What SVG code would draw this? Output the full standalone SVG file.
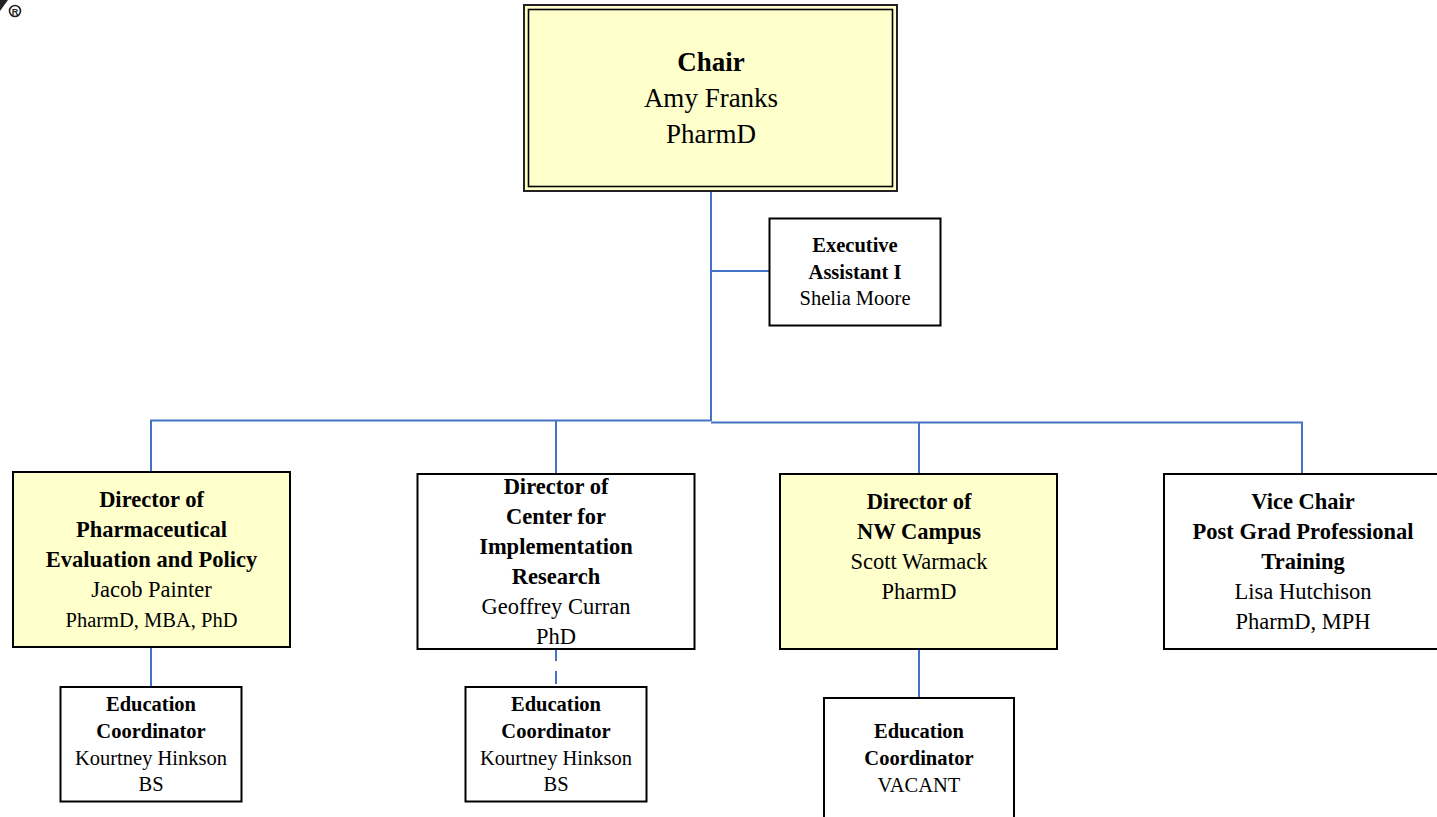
<svg xmlns="http://www.w3.org/2000/svg" width="1437" height="817" viewBox="0 0 1437 817">
<style>
text{font-family:"Liberation Serif","Times New Roman",serif;fill:#000;text-anchor:middle}
.b{font-weight:700}
.box{fill:#fff;stroke:#000;stroke-width:2}
.y{fill:#ffffcc}
.c{fill:none;stroke:#4472c4;stroke-width:2}
.s22{font-size:22.5px}
.s21{font-size:20.5px}
</style>
<rect width="1437" height="817" fill="#fff"/>
<g id="logo">
<path d="M0 0H8L0 11Z" fill="#222"/>
<circle cx="15" cy="11" r="5.5" fill="none" stroke="#222" stroke-width="1.6"/>
<text x="15" y="14.5" class="b" style="font-family:'Liberation Sans',sans-serif;font-size:9px;fill:#222">R</text>
</g>
<g id="connectors">
<path class="c" d="M711 191V421"/>
<path class="c" d="M711 271H770"/>
<path class="c" d="M711 420.500H151V472"/>
<path class="c" d="M556 421V474"/>
<path class="c" d="M711 422.500H1302V474"/>
<path class="c" d="M919 423V474"/>
<path class="c" d="M151 647V687"/>
<path class="c" d="M556 649V661M556 671V684"/>
<path class="c" d="M919 649V698"/>
</g>
<g id="chair">
<rect x="524" y="5" width="373" height="186" fill="#ffffcc" stroke="#222" stroke-width="2"/>
<rect x="528.500" y="9.500" width="364" height="177" fill="none" stroke="#000" stroke-width="1.600"/>
<text x="711" y="71" class="b" style="font-size:27px">Chair</text>
<text x="711" y="107" style="font-size:27px">Amy Franks</text>
<text x="711" y="143" style="font-size:27px">PharmD</text>
</g>
<g id="exec-assistant">
<rect class="box" x="769.500" y="218.500" width="171" height="107"/>
<text x="855" y="252" class="b s21">Executive</text>
<text x="855" y="279" class="b s21">Assistant I</text>
<text x="855" y="305" class="s21">Shelia Moore</text>
</g>
<g id="dir-pharm">
<rect class="box y" x="13" y="472" width="277" height="175"/>
<text x="151.500" y="507" class="b s22">Director of</text>
<text x="151.500" y="537" class="b s22">Pharmaceutical</text>
<text x="151.500" y="567" class="b s22">Evaluation and Policy</text>
<text x="151.500" y="597" class="s22">Jacob Painter</text>
<text x="151.500" y="627" class="s21">PharmD, MBA, PhD</text>
</g>
<g id="dir-center">
<rect class="box" x="417.500" y="474" width="277" height="175"/>
<text x="556" y="494" class="b s22">Director of</text>
<text x="556" y="524" class="b s22">Center for</text>
<text x="556" y="554" class="b s22">Implementation</text>
<text x="556" y="584" class="b s22">Research</text>
<text x="556" y="614" class="s22">Geoffrey Curran</text>
<text x="556" y="644" class="s22">PhD</text>
</g>
<g id="dir-nw">
<rect class="box y" x="780" y="474" width="277" height="175"/>
<text x="919" y="509" class="b s22">Director of</text>
<text x="919" y="539" class="b s22">NW Campus</text>
<text x="919" y="569" class="s22">Scott Warmack</text>
<text x="919" y="599" class="s22">PharmD</text>
</g>
<g id="vice-chair">
<rect class="box" x="1164" y="474" width="277" height="175"/>
<text x="1303" y="509" class="b s22">Vice Chair</text>
<text x="1303" y="539" class="b s22">Post Grad Professional</text>
<text x="1303" y="569" class="b s22">Training</text>
<text x="1303" y="599" class="s22">Lisa Hutchison</text>
<text x="1303" y="629" class="s22">PharmD, MPH</text>
</g>
<g id="edu-1">
<rect class="box" x="60.500" y="687" width="181" height="114.500"/>
<text x="151" y="711" class="b s21">Education</text>
<text x="151" y="738" class="b s21">Coordinator</text>
<text x="151" y="765" class="s21">Kourtney Hinkson</text>
<text x="151" y="791" class="s21">BS</text>
</g>
<g id="edu-2">
<rect class="box" x="465.500" y="687" width="181" height="114.500"/>
<text x="556" y="711" class="b s21">Education</text>
<text x="556" y="738" class="b s21">Coordinator</text>
<text x="556" y="765" class="s21">Kourtney Hinkson</text>
<text x="556" y="791" class="s21">BS</text>
</g>
<g id="edu-3">
<rect class="box" x="824" y="698" width="190" height="125"/>
<text x="919" y="738" class="b s21">Education</text>
<text x="919" y="765" class="b s21">Coordinator</text>
<text x="919" y="792" class="s21">VACANT</text>
</g>
</svg>
